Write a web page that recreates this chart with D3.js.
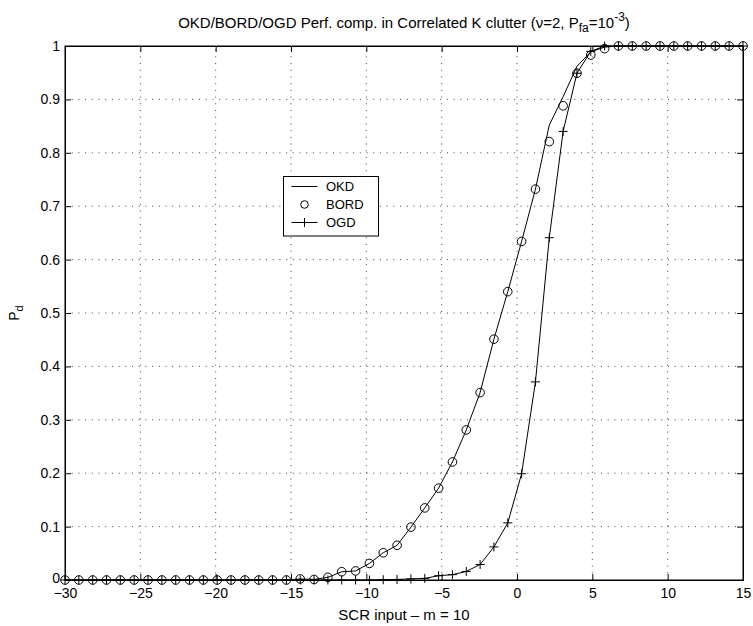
<!DOCTYPE html>
<html>
<head>
<meta charset="utf-8">
<script src="https://cdn.jsdelivr.net/npm/d3@7/dist/d3.min.js"></script>
<style>
  html, body { margin: 0; padding: 0; background: #fff; }
  svg { display: block; }
  text { font-family: "Liberation Sans", Arial, Helvetica, sans-serif; fill: #000; }
</style>
</head>
<body>
<svg id="chart" width="753" height="626"></svg>
<script>
// ---- data ----
const scrInput = [-30, -29.082, -28.163, -27.245, -26.327, -25.408, -24.490, -23.571, -22.653, -21.735,
  -20.816, -19.898, -18.980, -18.061, -17.143, -16.224, -15.306, -14.388, -13.469, -12.551,
  -11.633, -10.714, -9.796, -8.878, -7.959, -7.041, -6.122, -5.204, -4.286, -3.367,
  -2.449, -1.531, -0.612, 0.306, 1.224, 2.143, 3.061, 3.980, 4.898, 5.816,
  6.735, 7.653, 8.571, 9.490, 10.408, 11.327, 12.245, 13.163, 14.082, 15];
const okd = [0,0,0,0,0,0,0,0,0,0,
  0,0,0,0,0,0,0,0.002,0.001,0.005,
  0.0155,0.017,0.031,0.051,0.065,0.099,0.135,0.172,0.221,0.281,
  0.351,0.451,0.540,0.634,0.732,0.852,0.905,0.962,0.989,0.998,
  1,1,1,1,1,1,1,1,1,1];
const bord = [0,0,0,0,0,0,0,0,0,0,
  0,0,0,0,0,0,0,0.002,0.001,0.005,
  0.0155,0.017,0.031,0.051,0.065,0.099,0.135,0.172,0.221,0.281,
  0.351,0.451,0.540,0.634,0.732,0.821,0.888,0.949,0.983,0.995,
  1,1,1,1,1,1,1,1,1,1];
const ogd = [0,0,0,0,0,0,0,0,0,0,
  0,0,0,0,0,0,0,0,0,0,
  0,0,0,0.0005,0.001,0.002,0.003,0.008,0.010,0.016,
  0.029,0.062,0.107,0.199,0.371,0.641,0.840,0.949,0.990,1,
  1,1,1,1,1,1,1,1,1,1];
const xTicks = [-30, -25, -20, -15, -10, -5, 0, 5, 10, 15];
const yTicks = [0, 0.1, 0.2, 0.3, 0.4, 0.5, 0.6, 0.7, 0.8, 0.9, 1];
const legendLabels = ["OKD", "BORD", "OGD"];

// ---- layout ----
const svg = d3.select("#chart");
const L = 65, R = 743, T = 46, B = 580;
const x = d3.scaleLinear().domain([-30, 15]).range([L, R]);
const y = d3.scaleLinear().domain([0, 1]).range([B, T]);
const tickLen = 6;

// grid
const grid = svg.append("g").attr("stroke", "#000").attr("stroke-width", 1)
  .attr("stroke-dasharray", "1,5.7").attr("opacity", 0.75);
xTicks.slice(1, -1).forEach(v => {
  grid.append("line").attr("x1", x(v)).attr("x2", x(v)).attr("y1", B).attr("y2", T);
});
yTicks.slice(1, -1).forEach(v => {
  grid.append("line").attr("y1", y(v)).attr("y2", y(v)).attr("x1", L).attr("x2", R);
});

// axes (ticks inward, on all four sides)
const fontSize = 14;
const axB = svg.append("g").attr("transform", `translate(0,${B})`)
  .call(d3.axisBottom(x).tickValues(xTicks).tickSizeInner(-tickLen).tickSizeOuter(0).tickPadding(8)
    .tickFormat(d3.format("d")));
const axT = svg.append("g").attr("transform", `translate(0,${T})`)
  .call(d3.axisTop(x).tickValues(xTicks).tickSizeInner(-tickLen).tickSizeOuter(0).tickFormat(""));
const axL = svg.append("g").attr("transform", `translate(${L},0)`)
  .call(d3.axisLeft(y).tickValues(yTicks).tickSizeInner(-tickLen).tickSizeOuter(0).tickPadding(5)
    .tickFormat(d => d3.format("")(d)));
const axR = svg.append("g").attr("transform", `translate(${R},0)`)
  .call(d3.axisRight(y).tickValues(yTicks).tickSizeInner(-tickLen).tickSizeOuter(0).tickFormat(""));
[axB, axT, axL, axR].forEach(a => {
  a.selectAll("path.domain").attr("stroke", "#000").attr("stroke-width", 1);
  a.selectAll(".tick line").attr("stroke", "#000").attr("stroke-width", 1);
  a.selectAll("text").attr("font-size", fontSize)
    .attr("font-family", '"Liberation Sans", Arial, sans-serif').attr("fill", "#000");
});
// lift the "0" label of the y axis slightly so it clears the x labels
axL.selectAll(".tick").filter(d => d === 0).select("text").attr("dy", "0.2em");
// box
svg.append("rect").attr("x", L).attr("y", T).attr("width", R - L).attr("height", B - T)
  .attr("fill", "none").attr("stroke", "#000").attr("stroke-width", 1);

// ---- series ----
const lineGen = d3.line().x(d => x(d[0])).y(d => y(d[1]));
const plotG = svg.append("g");
plotG.append("path").datum(scrInput.map((v, i) => [v, okd[i]]))
  .attr("d", lineGen).attr("fill", "none").attr("stroke", "#000").attr("stroke-width", 1);
plotG.append("path").datum(scrInput.map((v, i) => [v, ogd[i]]))
  .attr("d", lineGen).attr("fill", "none").attr("stroke", "#000").attr("stroke-width", 1);
plotG.selectAll("circle.bord").data(scrInput.map((v, i) => [v, bord[i]]))
  .enter().append("circle").attr("class", "bord")
  .attr("cx", d => x(d[0])).attr("cy", d => y(d[1])).attr("r", 4.3)
  .attr("fill", "none").attr("stroke", "#000").attr("stroke-width", 1);
const pr = 4.5;
const plus = plotG.selectAll("g.ogd").data(scrInput.map((v, i) => [v, ogd[i]]))
  .enter().append("g").attr("class", "ogd")
  .attr("transform", d => `translate(${x(d[0])},${y(d[1])})`);
plus.append("line").attr("x1", -pr).attr("x2", pr).attr("y1", 0).attr("y2", 0).attr("stroke", "#000");
plus.append("line").attr("y1", -pr).attr("y2", pr).attr("x1", 0).attr("x2", 0).attr("stroke", "#000");

// ---- title ----
const title = svg.append("text").attr("x", (L + R) / 2).attr("y", 28)
  .attr("text-anchor", "middle").attr("font-size", 15);
title.append("tspan").text("OKD/BORD/OGD Perf. comp. in Correlated K clutter (\u03bd=2, P");
title.append("tspan").attr("font-size", 12).attr("dy", 4).text("fa");
title.append("tspan").attr("dy", -4).text("=10");
title.append("tspan").attr("font-size", 12).attr("dy", -7).text("-3");
title.append("tspan").attr("dy", 7).text(")");

// ---- axis labels ----
svg.append("text").attr("x", (L + R) / 2).attr("y", 620).attr("text-anchor", "middle")
  .attr("font-size", 15).text("SCR input \u2013 m = 10");
const yl = svg.append("text").attr("transform", `translate(19,${(T + B) / 2}) rotate(-90)`)
  .attr("text-anchor", "middle").attr("font-size", 14);
yl.append("tspan").text("P");
yl.append("tspan").attr("font-size", 11).attr("dy", 4).text("d");

// ---- legend ----
const lg = svg.append("g");
lg.append("rect").attr("x", 283.5).attr("y", 176.5).attr("width", 95).attr("height", 59.5)
  .attr("fill", "#fff").attr("stroke", "#000").attr("stroke-width", 1);
const rowsY = [186.5, 204.5, 222.5];
legendLabels.forEach((lab, i) => {
  const yy = rowsY[i];
  if (i === 0 || i === 2) {
    lg.append("line").attr("x1", 291.5).attr("x2", 317.5).attr("y1", yy).attr("y2", yy)
      .attr("stroke", "#000").attr("stroke-width", 1);
  }
  if (i === 1) {
    lg.append("circle").attr("cx", 304.5).attr("cy", yy).attr("r", 3.8)
      .attr("fill", "none").attr("stroke", "#000");
  }
  if (i === 2) {
    lg.append("line").attr("x1", 304.5).attr("x2", 304.5).attr("y1", yy - pr).attr("y2", yy + pr)
      .attr("stroke", "#000");
  }
  lg.append("text").attr("x", 326).attr("y", yy).attr("dy", "0.35em").attr("font-size", 13).text(lab);
});
</script>
</body>
</html>
